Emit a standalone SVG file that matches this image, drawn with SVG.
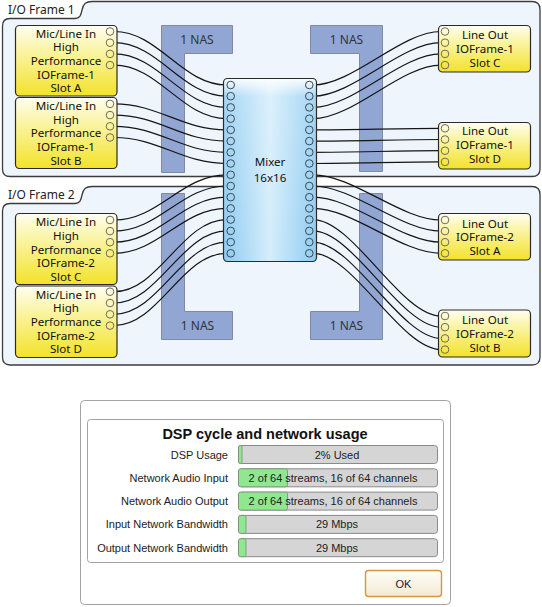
<svg xmlns="http://www.w3.org/2000/svg" width="542" height="607" viewBox="0 0 542 607">
<defs>
<linearGradient id="yel" x1="0" y1="0" x2="0" y2="1">
<stop offset="0" stop-color="#fffef2"/>
<stop offset="0.3" stop-color="#fbf6b0"/>
<stop offset="1" stop-color="#f3e22a"/>
</linearGradient>
<linearGradient id="mixH" x1="0" y1="0" x2="1" y2="0">
<stop offset="0" stop-color="#8dcbf1"/>
<stop offset="0.5" stop-color="#d4edfb"/>
<stop offset="1" stop-color="#8dcbf1"/>
</linearGradient>
<linearGradient id="mixV" x1="0" y1="0" x2="0" y2="1">
<stop offset="0" stop-color="#ffffff" stop-opacity="0.95"/>
<stop offset="0.1" stop-color="#ffffff" stop-opacity="0.2"/>
<stop offset="1" stop-color="#ffffff" stop-opacity="0"/>
</linearGradient>
<linearGradient id="okg" x1="0" y1="0" x2="0" y2="1">
<stop offset="0" stop-color="#fefdf8"/>
<stop offset="1" stop-color="#f2ead4"/>
</linearGradient>
<style>
.frame{fill:#eef5fd;stroke:#3c3c3c;stroke-width:1.3}
.ftxt{font-family:"Noto Sans","Open Sans",sans-serif;font-size:12px;fill:#222}
.nas{fill:#92a6d4;stroke:#7f8aa6;stroke-width:1}
.nastxt{font-family:"Noto Sans","Open Sans",sans-serif;font-size:12px;fill:#2f3440;text-anchor:middle}
.ynode{fill:url(#yel);stroke:#2a2a2a;stroke-width:1.2}
.ntxt{font-family:"Noto Sans","Open Sans",sans-serif;font-size:11.6px;fill:#111;text-anchor:middle}
.yc{fill:none;stroke:#6e6c5a;stroke-width:1}
.mc{fill:none;stroke:#3c4852;stroke-width:1}
.wire{fill:none;stroke:#151515;stroke-width:1.2}
.dlg{font-family:"Liberation Sans",Arial,sans-serif;font-size:11px;fill:#222}
.lbl{text-anchor:end}
.bar{fill:#d5d5d5;stroke:#8a8a8a;stroke-width:1}
.grn{fill:#8fe88f;stroke:#7a8a7a;stroke-width:0.8}
.btxt{text-anchor:middle}
</style>
</defs>

<g id="frame1">
<path class="frame" d="M2.5,26 Q2.5,18.5 10,18.5 L75,18.5 C80,18.5 81,15 82,10 C83.5,3.5 86,1.5 92,1.5 L532,1.5 Q540,1.5 540,9.5 L540,169 Q540,176.5 532,176.5 L10,176.5 Q2.5,176.5 2.5,169 Z"/>
<text class="ftxt" x="8" y="13.5">I/O Frame 1</text>
</g>
<g id="frame2">
<path class="frame" d="M2.5,211 Q2.5,203.5 10,203.5 L75,203.5 C80,203.5 81,200 82,195 C83.5,188.5 86,186.5 92,186.5 L532,186.5 Q540,186.5 540,194.5 L540,357 Q540,365 532,365 L10,365 Q2.5,365 2.5,357 Z"/>
<text class="ftxt" x="8" y="198.5">I/O Frame 2</text>
</g>

<g id="nas-tl"><path class="nas" d="M161.5,25.5 H232.5 V53.5 H184.5 V172.5 H161.5 Z"/><text class="nastxt" x="197" y="44">1 NAS</text></g>
<g id="nas-tr"><path class="nas" d="M310.5,25.5 H382.5 V171.5 H359.5 V53.5 H310.5 Z"/><text class="nastxt" x="346.5" y="44">1 NAS</text></g>
<g id="nas-bl"><path class="nas" d="M161.5,193.5 H184.5 V311.5 H232.5 V339.5 H161.5 Z"/><text class="nastxt" x="197.5" y="330">1 NAS</text></g>
<g id="nas-br"><path class="nas" d="M359.5,193.5 H382.5 V339.5 H310.5 V311.5 H359.5 Z"/><text class="nastxt" x="346.5" y="330">1 NAS</text></g>

<g id="connectors">
<path class="wire" d="M114,31.5 C159,31.5 181.7,85 226.7,85"/>
<path class="wire" d="M114,42.7 C159,42.7 181.7,96.2 226.7,96.2"/>
<path class="wire" d="M114,53.9 C159,53.9 181.7,107.4 226.7,107.4"/>
<path class="wire" d="M114,65.1 C159,65.1 181.7,118.7 226.7,118.7"/>
<path class="wire" d="M114,103.9 C159,103.9 181.7,129.9 226.7,129.9"/>
<path class="wire" d="M114,115.1 C159,115.1 181.7,141.1 226.7,141.1"/>
<path class="wire" d="M114,126.3 C159,126.3 181.7,152.3 226.7,152.3"/>
<path class="wire" d="M114,137.5 C159,137.5 181.7,163.5 226.7,163.5"/>
<path class="wire" d="M114,220 C159,220 181.7,174.8 226.7,174.8"/>
<path class="wire" d="M114,231.1 C159,231.1 181.7,186 226.7,186"/>
<path class="wire" d="M114,242.2 C159,242.2 181.7,197.2 226.7,197.2"/>
<path class="wire" d="M114,253.3 C159,253.3 181.7,208.4 226.7,208.4"/>
<path class="wire" d="M114,291.7 C159,291.7 181.7,219.6 226.7,219.6"/>
<path class="wire" d="M114,303 C159,303 181.7,230.9 226.7,230.9"/>
<path class="wire" d="M114,314.3 C159,314.3 181.7,242.1 226.7,242.1"/>
<path class="wire" d="M114,325.6 C159,325.6 181.7,253.3 226.7,253.3"/>
<path class="wire" d="M313,85 C353,85 401,31.5 441,31.5"/>
<path class="wire" d="M313,96.2 C353,96.2 401,42.7 441,42.7"/>
<path class="wire" d="M313,107.4 C353,107.4 401,53.9 441,53.9"/>
<path class="wire" d="M313,118.7 C353,118.7 401,65.1 441,65.1"/>
<path class="wire" d="M313,129.9 C353,129.9 401,128.3 441,128.3"/>
<path class="wire" d="M313,141.1 C353,141.1 401,139.5 441,139.5"/>
<path class="wire" d="M313,152.3 C353,152.3 401,150.7 441,150.7"/>
<path class="wire" d="M313,163.5 C353,163.5 401,161.9 441,161.9"/>
<path class="wire" d="M313,174.8 C353,174.8 401,220 441,220"/>
<path class="wire" d="M313,186 C353,186 401,231.1 441,231.1"/>
<path class="wire" d="M313,197.2 C353,197.2 401,242.2 441,242.2"/>
<path class="wire" d="M313,208.4 C353,208.4 401,253.3 441,253.3"/>
<path class="wire" d="M313,219.6 C353,219.6 401,316 441,316"/>
<path class="wire" d="M313,230.9 C353,230.9 401,327.2 441,327.2"/>
<path class="wire" d="M313,242.1 C353,242.1 401,338.4 441,338.4"/>
<path class="wire" d="M313,253.3 C353,253.3 401,349.6 441,349.6"/>
</g>

<g id="in-slotA">
<rect class="ynode" x="15.5" y="25.5" width="101.5" height="70.5" rx="4"/>
<text class="ntxt" x="66" y="37.7">Mic/Line In</text>
<text class="ntxt" x="66" y="51.4">High</text>
<text class="ntxt" x="66" y="65">Performance</text>
<text class="ntxt" x="66" y="78.7">IOFrame-1</text>
<text class="ntxt" x="66" y="92.4">Slot A</text>
<circle class="yc" cx="110" cy="31.5" r="3.8"/><circle class="yc" cx="110" cy="42.7" r="3.8"/><circle class="yc" cx="110" cy="53.9" r="3.8"/><circle class="yc" cx="110" cy="65.1" r="3.8"/>
</g>
<g id="in-slotB">
<rect class="ynode" x="15.5" y="97.5" width="101.5" height="71" rx="4"/>
<text class="ntxt" x="66" y="109.9">Mic/Line In</text>
<text class="ntxt" x="66" y="123.6">High</text>
<text class="ntxt" x="66" y="137.2">Performance</text>
<text class="ntxt" x="66" y="150.9">IOFrame-1</text>
<text class="ntxt" x="66" y="164.6">Slot B</text>
<circle class="yc" cx="110" cy="103.9" r="3.8"/><circle class="yc" cx="110" cy="115.1" r="3.8"/><circle class="yc" cx="110" cy="126.3" r="3.8"/><circle class="yc" cx="110" cy="137.5" r="3.8"/>
</g>
<g id="in-slotC">
<rect class="ynode" x="15.5" y="213.5" width="101.5" height="71" rx="4"/>
<text class="ntxt" x="66" y="226.3">Mic/Line In</text>
<text class="ntxt" x="66" y="240">High</text>
<text class="ntxt" x="66" y="253.6">Performance</text>
<text class="ntxt" x="66" y="267.3">IOFrame-2</text>
<text class="ntxt" x="66" y="281">Slot C</text>
<circle class="yc" cx="110" cy="220" r="3.8"/><circle class="yc" cx="110" cy="231.1" r="3.8"/><circle class="yc" cx="110" cy="242.2" r="3.8"/><circle class="yc" cx="110" cy="253.3" r="3.8"/>
</g>
<g id="in-slotD">
<rect class="ynode" x="15.5" y="286" width="101.5" height="71.5" rx="4"/>
<text class="ntxt" x="66" y="298.6">Mic/Line In</text>
<text class="ntxt" x="66" y="312.3">High</text>
<text class="ntxt" x="66" y="325.9">Performance</text>
<text class="ntxt" x="66" y="339.6">IOFrame-2</text>
<text class="ntxt" x="66" y="353.3">Slot D</text>
<circle class="yc" cx="110" cy="291.7" r="3.8"/><circle class="yc" cx="110" cy="303" r="3.8"/><circle class="yc" cx="110" cy="314.3" r="3.8"/><circle class="yc" cx="110" cy="325.6" r="3.8"/>
</g>

<g id="mixer">
<rect x="223.5" y="78.5" width="93" height="183" rx="4" fill="url(#mixH)"/>
<rect x="223.5" y="78.5" width="93" height="183" rx="4" fill="url(#mixV)" stroke="#2b2b2b" stroke-width="1.2"/>
<text class="ntxt" x="270" y="166">Mixer</text>
<text class="ntxt" x="270" y="181.5">16x16</text>
<g>
<circle class="mc" cx="230.7" cy="85" r="3.8"/><circle class="mc" cx="230.7" cy="96.2" r="3.8"/><circle class="mc" cx="230.7" cy="107.4" r="3.8"/><circle class="mc" cx="230.7" cy="118.7" r="3.8"/>
<circle class="mc" cx="230.7" cy="129.9" r="3.8"/><circle class="mc" cx="230.7" cy="141.1" r="3.8"/><circle class="mc" cx="230.7" cy="152.3" r="3.8"/><circle class="mc" cx="230.7" cy="163.5" r="3.8"/>
<circle class="mc" cx="230.7" cy="174.8" r="3.8"/><circle class="mc" cx="230.7" cy="186" r="3.8"/><circle class="mc" cx="230.7" cy="197.2" r="3.8"/><circle class="mc" cx="230.7" cy="208.4" r="3.8"/>
<circle class="mc" cx="230.7" cy="219.6" r="3.8"/><circle class="mc" cx="230.7" cy="230.9" r="3.8"/><circle class="mc" cx="230.7" cy="242.1" r="3.8"/><circle class="mc" cx="230.7" cy="253.3" r="3.8"/>
<circle class="mc" cx="309.3" cy="85" r="3.8"/><circle class="mc" cx="309.3" cy="96.2" r="3.8"/><circle class="mc" cx="309.3" cy="107.4" r="3.8"/><circle class="mc" cx="309.3" cy="118.7" r="3.8"/>
<circle class="mc" cx="309.3" cy="129.9" r="3.8"/><circle class="mc" cx="309.3" cy="141.1" r="3.8"/><circle class="mc" cx="309.3" cy="152.3" r="3.8"/><circle class="mc" cx="309.3" cy="163.5" r="3.8"/>
<circle class="mc" cx="309.3" cy="174.8" r="3.8"/><circle class="mc" cx="309.3" cy="186" r="3.8"/><circle class="mc" cx="309.3" cy="197.2" r="3.8"/><circle class="mc" cx="309.3" cy="208.4" r="3.8"/>
<circle class="mc" cx="309.3" cy="219.6" r="3.8"/><circle class="mc" cx="309.3" cy="230.9" r="3.8"/><circle class="mc" cx="309.3" cy="242.1" r="3.8"/><circle class="mc" cx="309.3" cy="253.3" r="3.8"/>
</g>
</g>

<g id="out-f1-slotC">
<rect class="ynode" x="438.5" y="25.5" width="92" height="46.5" rx="4"/>
<text class="ntxt" x="485" y="39.3">Line Out</text>
<text class="ntxt" x="485" y="53">IOFrame-1</text>
<text class="ntxt" x="485" y="66.7">Slot C</text>
<circle class="yc" cx="445" cy="31.5" r="3.8"/><circle class="yc" cx="445" cy="42.7" r="3.8"/><circle class="yc" cx="445" cy="53.9" r="3.8"/><circle class="yc" cx="445" cy="65.1" r="3.8"/>
</g>
<g id="out-f1-slotD">
<rect class="ynode" x="438.5" y="122.5" width="92" height="46.5" rx="4"/>
<text class="ntxt" x="485" y="135.3">Line Out</text>
<text class="ntxt" x="485" y="149">IOFrame-1</text>
<text class="ntxt" x="485" y="162.7">Slot D</text>
<circle class="yc" cx="445" cy="128.3" r="3.8"/><circle class="yc" cx="445" cy="139.5" r="3.8"/><circle class="yc" cx="445" cy="150.7" r="3.8"/><circle class="yc" cx="445" cy="161.9" r="3.8"/>
</g>
<g id="out-f2-slotA">
<rect class="ynode" x="438.5" y="213.5" width="92" height="46.5" rx="4"/>
<text class="ntxt" x="485" y="227.6">Line Out</text>
<text class="ntxt" x="485" y="241.3">IOFrame-2</text>
<text class="ntxt" x="485" y="255">Slot A</text>
<circle class="yc" cx="445" cy="220" r="3.8"/><circle class="yc" cx="445" cy="231.1" r="3.8"/><circle class="yc" cx="445" cy="242.2" r="3.8"/><circle class="yc" cx="445" cy="253.3" r="3.8"/>
</g>
<g id="out-f2-slotB">
<rect class="ynode" x="438.5" y="310" width="92" height="47" rx="4"/>
<text class="ntxt" x="485" y="324.3">Line Out</text>
<text class="ntxt" x="485" y="338">IOFrame-2</text>
<text class="ntxt" x="485" y="351.7">Slot B</text>
<circle class="yc" cx="445" cy="316" r="3.8"/><circle class="yc" cx="445" cy="327.2" r="3.8"/><circle class="yc" cx="445" cy="338.4" r="3.8"/><circle class="yc" cx="445" cy="349.6" r="3.8"/>
</g>

<g id="dialog" class="dlg">
<rect x="80.5" y="400.5" width="370" height="204" rx="4" fill="#ffffff" stroke="#a3a3a3"/>
<rect x="87.5" y="419.5" width="356" height="143" rx="3" fill="none" stroke="#a3a3a3"/>
<text x="265" y="438.5" text-anchor="middle" style="font-size:14.5px;font-weight:bold;fill:#111">DSP cycle and network usage</text>

<text class="lbl" x="228" y="458.5">DSP Usage</text>
<rect class="bar" x="238.5" y="445.5" width="199" height="18" rx="3"/>
<rect class="grn" x="238.5" y="445.5" width="3.5" height="18" rx="1.5"/>
<text class="btxt" x="337" y="458.5">2% Used</text>

<text class="lbl" x="228" y="481.8">Network Audio Input</text>
<rect class="bar" x="238.5" y="468.8" width="199" height="18" rx="3"/>
<rect class="grn" x="238.5" y="468.8" width="49" height="18" rx="2"/>
<text class="btxt" x="333" y="481.8">2 of 64 streams, 16 of 64 channels</text>

<text class="lbl" x="228" y="505.1">Network Audio Output</text>
<rect class="bar" x="238.5" y="492.1" width="199" height="18" rx="3"/>
<rect class="grn" x="238.5" y="492.1" width="49" height="18" rx="2"/>
<text class="btxt" x="333" y="505.1">2 of 64 streams, 16 of 64 channels</text>

<text class="lbl" x="228" y="528.4">Input Network Bandwidth</text>
<rect class="bar" x="238.5" y="515.4" width="199" height="18" rx="3"/>
<rect class="grn" x="238.5" y="515.4" width="7.5" height="18" rx="2"/>
<text class="btxt" x="337" y="528.4">29 Mbps</text>

<text class="lbl" x="228" y="551.7">Output Network Bandwidth</text>
<rect class="bar" x="238.5" y="538.7" width="199" height="18" rx="3"/>
<rect class="grn" x="238.5" y="538.7" width="7.5" height="18" rx="2"/>
<text class="btxt" x="337" y="551.7">29 Mbps</text>

<g id="ok-button">
<rect x="365.5" y="570.5" width="76" height="26" rx="3" fill="url(#okg)" stroke="#d19a3e" stroke-width="1.4"/>
<text class="btxt" x="403.5" y="587.5">OK</text>
</g>
</g>
</svg>
